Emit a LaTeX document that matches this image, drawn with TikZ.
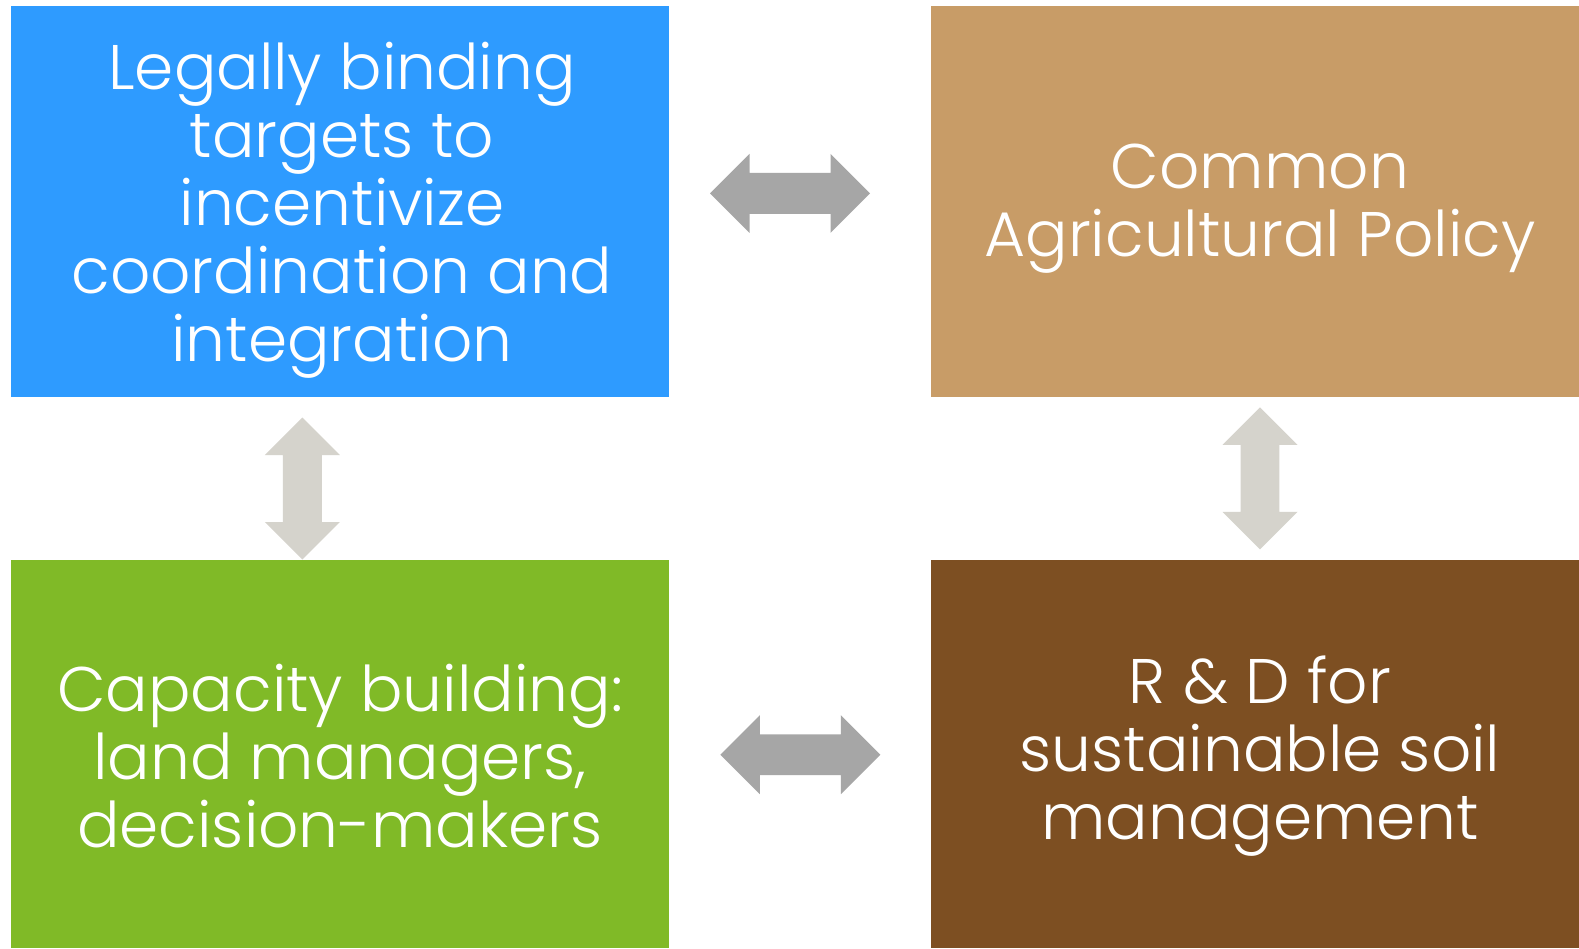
\documentclass[tikz,border=0pt]{standalone}
\usepackage{fontspec}
\setmainfont{Poppins}[UprightFont=* Light]
\usetikzlibrary{shapes.arrows}

\definecolor{legalblue}{RGB}{46,155,255}
\definecolor{captan}{RGB}{200,156,103}
\definecolor{capgreen}{RGB}{128,186,39}
\definecolor{rdbrown}{RGB}{125,79,34}
\definecolor{darkarrow}{RGB}{166,166,166}
\definecolor{lightarrow}{RGB}{213,211,204}

\begin{document}
\begin{tikzpicture}[x=0.5pt, y=-0.5pt,
    box/.style={rectangle, inner sep=0pt},
    boxtext/.style={inner sep=0pt, text=white, align=center,
        font=\fontsize{31.5}{34}\selectfont},
    harrow/.style={double arrow, draw=none, inner sep=10pt,
        minimum height=80pt, minimum width=39.5pt, double arrow head extend=9.5pt},
    varrow/.style={double arrow, draw=none, inner sep=9.5pt, shape border rotate=90,
        minimum height=71pt, minimum width=37.5pt, double arrow head extend=9pt}]

    % Page frame
    \useasboundingbox[fill=white] (0,0) rectangle (1579,948);

    % Four policy boxes
    \node[box, fill=legalblue, minimum width=329pt, minimum height=195.5pt] (legal) at (340,201.5) {};
    \node[box, fill=captan, minimum width=324pt, minimum height=195.5pt] (cap) at (1255,201.5) {};
    \node[box, fill=capgreen, minimum width=329pt, minimum height=194pt] (build) at (340,754) {};
    \node[box, fill=rdbrown, minimum width=324pt, minimum height=194pt] (rd) at (1255,754) {};

    % Box texts
    \node[boxtext] (legaltext) at (342,210)
        {Legally binding\\targets to\\incentivize\\coordination and\\integration};
    \node[boxtext] (captext) at (1260,209) {Common\\Agricultural Policy};
    \node[boxtext] (buildtext) at (340,756) {Capacity building:\\land managers,\\decision-makers};
    \node[boxtext] (rdtext) at (1260,756) {R \& D for\\sustainable soil\\management};

    % Horizontal double arrows
    \node[harrow, fill=darkarrow] (legalcap) at (790,193.3) {};
    \node[harrow, fill=darkarrow] (buildrd) at (800.3,754.7) {};

    % Vertical double arrows
    \node[varrow, fill=lightarrow] (legalbuild) at (302.3,488.5) {};
    \node[varrow, fill=lightarrow] (caprd) at (1260,478.3) {};

\end{tikzpicture}
\end{document}
